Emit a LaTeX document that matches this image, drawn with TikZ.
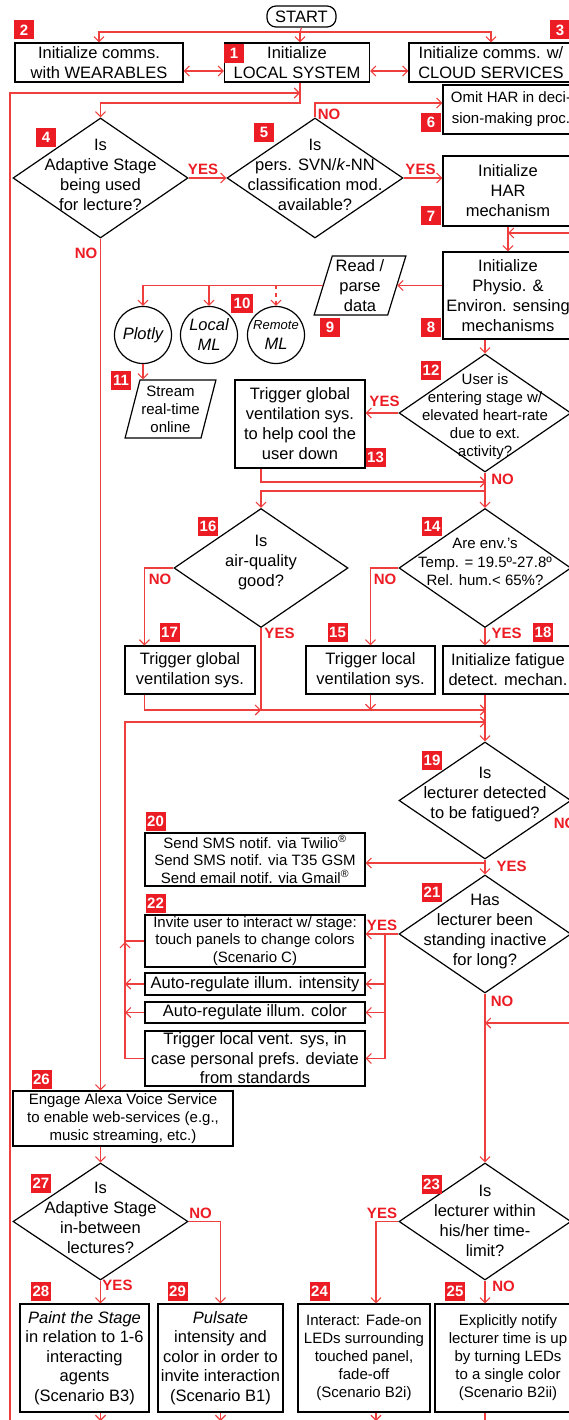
\documentclass[tikz,border=0pt]{standalone}
\usepackage{fontspec}
\setmainfont{Liberation Sans}
\usetikzlibrary{shapes.geometric,arrows.meta}
\definecolor{lnred}{RGB}{238,62,62}
\definecolor{tagred}{RGB}{236,28,36}
\newcommand{\fs}[2]{\fontsize{#1}{#2}\selectfont}

\tikzset{
  box/.style={draw, line width=1.2pt, fill=white, align=center, inner sep=0pt, font=\fs{16.5}{20}},
  sbox/.style={box, font=\fs{15}{18}},
  dec/.style={draw, diamond, line width=1.2pt, fill=white, inner sep=0pt, minimum width=174pt, minimum height=118pt},
  dtxt/.style={align=center, inner sep=0pt, font=\fs{16.5}{20}},
  io/.style={draw, trapezium, trapezium left angle=73, trapezium right angle=107, trapezium stretches=true,
    line width=1.2pt, fill=white, align=center, inner sep=0pt, minimum width=92pt, minimum height=59pt, font=\fs{16.5}{20}},
  store/.style={draw, circle, line width=1.2pt, fill=white, align=center, inner sep=0pt, minimum size=57pt, font=\fs{16.5}{20}\itshape},
  tag/.style={fill=tagred, text=white, inner sep=0pt, minimum width=20pt, minimum height=19pt, font=\bfseries\fs{15}{15}},
  ans/.style={text=tagred, inner sep=0pt, font=\bfseries\fs{15}{15}},
  flow/.style={draw=lnred, line width=1.1pt}
}

\begin{document}
\begin{tikzpicture}[x=1pt,y=-1pt,>={Straight Barb[length=5pt,width=10pt]}]
\useasboundingbox (0,0) rectangle (569,1420);
\clip (0,0) rectangle (569,1420);

% start and initialisation
\node[box, rounded corners=9pt, minimum width=69pt, minimum height=21pt] (start) at (301.5,16.5) {START};
\node[box, minimum width=168pt, minimum height=39pt] (b2) at (99,62.5) {Initialize comms.\\with WEARABLES};
\node[box, minimum width=145pt, minimum height=39pt] (b1) at (297,62.5) {Initialize\\LOCAL SYSTEM};
\node[box, minimum width=164pt, minimum height=39pt] (b3) at (491,62.5) {Initialize comms. w/\\CLOUD SERVICES};
\node[box, font=\fs{15}{21}, minimum width=136pt, minimum height=49pt] (b6) at (511,109.5) {Omit HAR in deci-\\sion-making proc.};

% first decisions
\node[dec, minimum width=175pt, minimum height=120pt] (d4) at (100.5,178) {};
\node[dtxt] (d4t) at (100.5,175) {Is\\Adaptive Stage\\being used\\for lecture?};
\node[dec, minimum width=176pt, minimum height=120pt] (d5) at (315,178) {};
\node[dtxt] (d5t) at (315,175) {Is\\pers. SVN/\textit{k}-NN\\classification mod.\\available?};
\node[box, minimum width=130pt, minimum height=70pt] (b7) at (508,191) {Initialize\\HAR\\mechanism};
\node[box, minimum width=130pt, minimum height=87pt] (b8) at (508,295.5) {Initialize\\Physio. \&\\Environ. sensing\\mechanisms};

% data handling
\node[io] (p9) at (360,285.5) {Read /\\parse\\data};
\node[store] (plotly) at (143,335) {Plotly};
\node[store] (local) at (209,335) {Local\\ML};
\node[store] (remote) at (276,335) {{\fs{13}{16}Remote}\\ML};
\node[io, font=\fs{15}{18}, minimum width=91pt, minimum height=58pt] (p11) at (170.5,409) {Stream\\real-time\\online};

% heart-rate and environment
\node[dec, minimum width=172pt] (d12) at (485,413) {};
\node[dtxt, font=\fs{15}{18}] (d12t) at (485,417) {User is\\entering stage w/\\elevated heart-rate\\due to ext.\\activity?};
\node[box, minimum width=130pt, minimum height=88pt] (b13) at (300,424) {Trigger global\\ventilation sys.\\to help cool the\\user down};
\node[dec, minimum height=119pt] (d16) at (261,568) {};
\node[dtxt] (d16t) at (261,563) {Is\\air-quality\\good?};
\node[dec, minimum width=172pt, minimum height=119pt] (d14) at (485,568) {};
\node[dtxt, font=\fs{15}{18.5}] (d14t) at (485,562) {Are env.'s\\Temp. = 19.5º-27.8º\\Rel. hum.< 65\%?};
\node[box, minimum width=130pt, minimum height=48pt] (b17) at (190,670) {Trigger global\\ventilation sys.};
\node[box, minimum width=129pt, minimum height=48pt] (b15) at (370.5,670) {Trigger local\\ventilation sys.};
\node[box, minimum width=130pt, minimum height=48pt] (b18) at (508,670) {Initialize fatigue\\detect. mechan.};

% fatigue and inactivity
\node[dec, minimum width=172pt, minimum height=117pt] (d19) at (485,800.5) {};
\node[dtxt] (d19t) at (485,795) {Is\\lecturer detected\\to be fatigued?};
\node[box, font=\fs{15}{17.5}, minimum width=220pt, minimum height=53pt] (b20) at (255,859.5) {Send SMS notif. via Twilio\textsuperscript{®}\\Send SMS notif. via T35 GSM\\Send email notif. via Gmail\textsuperscript{®}};
\node[dec, minimum width=172pt] (d21) at (485,934) {};
\node[dtxt] (d21t) at (485,932) {Has\\lecturer been\\standing inactive\\for long?};
\node[box, font=\fs{15}{17.5}, minimum width=220pt, minimum height=52pt] (b22) at (255,941) {Invite user to interact w/ stage:\\touch panels to change colors\\(Scenario C)};
\node[box, minimum width=220pt, minimum height=22pt] (bint) at (255,984) {Auto-regulate illum. intensity};
\node[box, minimum width=220pt, minimum height=21pt] (bcol) at (255,1012.5) {Auto-regulate illum. color};
\node[box, font=\fs{16.5}{19.5}, minimum width=220pt, minimum height=55pt] (bvent) at (255,1058.5) {Trigger local vent. sys, in\\case personal prefs. deviate\\from standards};

% lighting scenarios
\node[sbox, minimum width=220pt, minimum height=55pt] (b26) at (123,1118.5) {Engage Alexa Voice Service\\to enable web-services (e.g.,\\music streaming, etc.)};
\node[dec, minimum width=175pt, minimum height=117pt] (d27) at (100.5,1221.5) {};
\node[dtxt] (d27t) at (100.5,1218) {Is\\Adaptive Stage\\in-between\\lectures?};
\node[dec, minimum width=172pt, minimum height=117pt] (d23) at (485,1221.5) {};
\node[dtxt] (d23t) at (485,1221) {Is\\lecturer within\\his/her time-\\limit?};
\node[box, font=\fs{16.5}{19.6}, minimum width=129pt, minimum height=108pt] (b28) at (84.5,1358) {\textit{Paint the Stage}\\in relation to 1-6\\interacting\\agents\\(Scenario B3)};
\node[box, font=\fs{16.5}{19.6}, minimum width=125pt, minimum height=108pt] (b29) at (220.5,1358) {\textit{Pulsate}\\intensity and\\color in order to\\invite interaction\\(Scenario B1)};
\node[sbox, minimum width=132pt, minimum height=108pt] (b24) at (364,1358) {Interact: Fade-on\\LEDs surrounding\\touched panel,\\fade-off\\(Scenario B2i)};
\node[sbox, minimum width=146pt, minimum height=108pt] (b25) at (508,1358) {Explicitly notify\\lecturer time is up\\by turning LEDs\\to a single color\\(Scenario B2ii)};

% step numbers
\node[tag] (t1) at (234,53.5) {1};
\node[tag] (t2) at (24,30) {2};
\node[tag] (t3) at (560,30) {3};
\node[tag] (t4) at (46,137.5) {4};
\node[tag] (t5) at (264,132.5) {5};
\node[tag] (t6) at (431,122.5) {6};
\node[tag] (t7) at (431,216) {7};
\node[tag] (t8) at (431,327.5) {8};
\node[tag] (t9) at (330,327.5) {9};
\node[tag, minimum width=22pt] (t10) at (242,303.5) {10};
\node[tag] (t11) at (121,380) {11};
\node[tag] (t12) at (431,370) {12};
\node[tag] (t13) at (375.5,457) {13};
\node[tag] (t14) at (432,526) {14};
\node[tag] (t15) at (337.5,632) {15};
\node[tag] (t16) at (208,526) {16};
\node[tag] (t17) at (169.5,632) {17};
\node[tag] (t18) at (543,632) {18};
\node[tag] (t19) at (432,760.5) {19};
\node[tag] (t20) at (155.5,821) {20};
\node[tag] (t21) at (432,892.5) {21};
\node[tag] (t22) at (155.5,903) {22};
\node[tag] (t23) at (431.5,1184) {23};
\node[tag] (t24) at (319.5,1291) {24};
\node[tag] (t25) at (455,1291) {25};
\node[tag] (t26) at (41.5,1079) {26};
\node[tag] (t27) at (41,1183) {27};
\node[tag] (t28) at (41,1291) {28};
\node[tag] (t29) at (177.5,1291) {29};

% answers
\node[ans] (a4y) at (203,169) {YES};
\node[ans] (a5y) at (420.5,169) {YES};
\node[ans] (a4n) at (86,253) {NO};
\node[ans] (a5n) at (329,114) {NO};
\node[ans] (a12y) at (384.5,401) {YES};
\node[ans] (a12n) at (502.5,479) {NO};
\node[ans] (a16n) at (160,579) {NO};
\node[ans] (a14n) at (385,579) {NO};
\node[ans] (a16y) at (279.5,633) {YES};
\node[ans] (a14y) at (506.5,633) {YES};
\node[ans] (a19n) at (565,823) {NO};
\node[ans] (a19y) at (511.5,866) {YES};
\node[ans] (a21y) at (382,925.5) {YES};
\node[ans] (a21n) at (502,1001) {NO};
\node[ans] (a27n) at (200.5,1213) {NO};
\node[ans] (a27y) at (117.5,1285) {YES};
\node[ans] (a23y) at (382,1213) {YES};
\node[ans] (a23n) at (503.5,1286) {NO};

% junctions
\coordinate (top) at (300,32);
\coordinate (j1) at (300,103);
\coordinate (lin) at (300,93);
\coordinate (lbot) at (10,1430);
\coordinate (rin1) at (575,233);
\coordinate (j13) at (486,482);
\coordinate (j14) at (486,491);
\coordinate (j18) at (486,710);
\coordinate (lp) at (125,722);
\coordinate (j19) at (486,722);
\coordinate (j20) at (486,863);
\coordinate (rv) at (385,934);
\coordinate (rin2) at (575,1023);
\coordinate (bot) at (0,1421);
\coordinate (bot2) at (0,1430);

\draw[flow] (start.south) -- (top);
\draw[flow,->] (top) -| (b2.north);
\draw[flow,->] (top) -| (b3.north);
\draw[flow,->] (top) -- (top |- b1.north);
\draw[flow,<->] ([yshift=-8.5pt]b2.east) -- ([yshift=-8.5pt]b1.west);
\draw[flow,<->] ([yshift=-8.5pt]b1.east) -- ([yshift=-8.5pt]b3.west);
\draw[flow,->] (j1 |- b1.south) -- (j1) -| (d4.north);
\draw[flow,->] (lbot) |- (lin);
\draw[flow,->] (d5.north) |- (j1 -| b6.west);
\draw[flow,->] (d4.east) -- (d5.west);
\draw[flow,->] (d5.east) -- (d5.east -| b7.west);
\draw[flow,->] (d4.south) -- (d4.south |- b26.north);

\draw[flow,->] (b7.south) -- (b8.north);
\draw[flow,->] (rin1) -- (rin1 -| b7.south);
\draw[flow,->] (b8.west |- p9.east) -- (p9.east);
\draw[flow,->] (p9.west) -| (plotly.north);
\draw[flow,->] (p9.west -| local.north) -- (local.north);
\draw[flow,->,dashed,dash pattern=on 4pt off 4pt] (p9.west -| remote.north) -- (remote.north);
\draw[flow,->] (plotly.south) -- (plotly.south |- p11.north);

\draw[flow,->] (d12.north |- b8.south) -- (d12.north);
\draw[flow,->] (d12.west) -- (d12.west -| b13.east);
\draw[flow,->] (d16.north |- b13.south) |- (j13);
\draw[flow,->] (d12.south) -- (d14.north);
\draw[flow,->] (j14) -| (d16.north);
\draw[flow,->] (d16.west) -| ([xshift=20pt]b17.north west);
\draw[flow,->] (d14.west) -| (b15.north);
\draw[flow,->] (d14.south) -- (d14.south |- b18.north);
\draw[flow,->] (d16.south) |- (j18);
\draw[flow,->] ([xshift=20pt]b17.south west) |- (d16.south |- j18);
\draw[flow,->] (b15.south) -- (b15.south |- j18);
\draw[flow,->] (d19.north |- b18.south) -- (d19.north);

\draw[flow,->] (bvent.west) -| (lp) -- (j19);
\draw[flow] (b22.west) -- (b22.west -| lp);
\draw[flow,->] (bint.west -| lp) -- ([yshift=-1pt]b22.west -| lp);
\draw[flow,->] (bint.west) -- (bint.west -| lp);
\draw[flow,->] (bcol.west) -- (bcol.west -| lp);
\draw[flow,->] (d19.south) -- (d21.north);
\draw[flow,->] (j20) -- (j20 -| b20.east);
\draw[flow,->] (d21.west) -- (d21.west -| b22.east);
\draw[flow] (rv) -- (rv |- bvent.east);
\draw[flow,->] (rv |- bint.east) -- (bint.east);
\draw[flow,->] (rv |- bcol.east) -- (bcol.east);
\draw[flow,->] (rv |- bvent.east) -- (bvent.east);
\draw[flow,->] (d21.south) -- (d23.north);
\draw[flow,->] (rin2) -- (rin2 -| d21.south);

\draw[flow,->] (d27.north |- b26.south) -- (d27.north);
\draw[flow,->] (d27.east) -| (b29.north);
\draw[flow,->] (d27.south) -- (d27.south |- b28.north);
\draw[flow,->] (d23.west) -| ([xshift=12pt]b24.north);
\draw[flow,->] (d23.south) -- (d23.south |- b25.north);
\draw[flow,->] (d27.south |- b28.south) -- (d27.south |- bot);
\draw[flow,->] (b29.south) -- (b29.south |- bot);
\draw[flow,->] ([xshift=12pt]b24.south) -- ([xshift=12pt]b24.south |- bot);
\draw[flow] (d23.south |- b25.south) -- (d23.south |- bot2);
\end{tikzpicture}
\end{document}
